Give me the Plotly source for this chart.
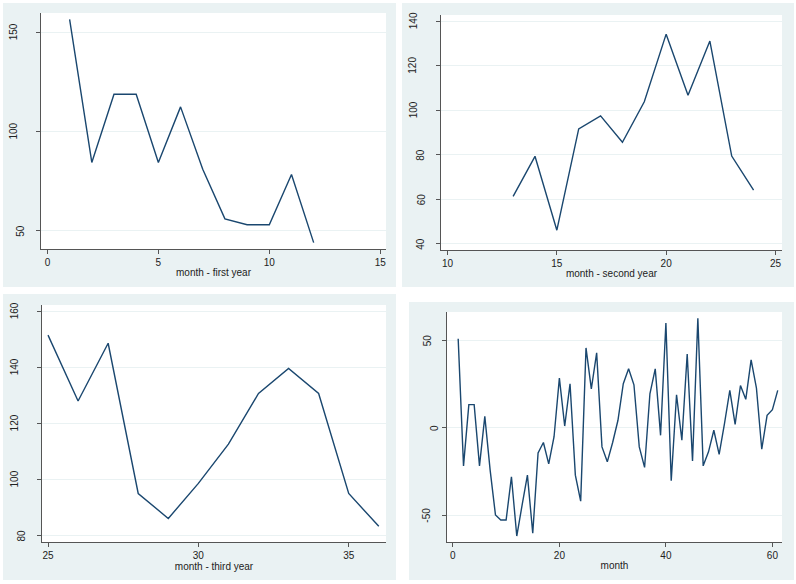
import plotly.graph_objects as go

W, H = 796, 584

# ---------------- data ----------------
months_y1 = list(range(1, 13))
values_y1 = [156.5, 84.4, 118.8, 118.8, 84.4, 112.4, 81.0, 56.0, 53.0, 53.0, 78.3, 44.0]

months_y2 = list(range(13, 25))
values_y2 = [61.3, 79.3, 46.1, 91.6, 97.5, 85.6, 103.8, 134.2, 106.7, 131.1, 79.4, 64.1]

months_y3 = list(range(25, 37))
values_y3 = [151.5, 128.0, 148.6, 95.0, 86.1, 98.6, 112.6, 130.7, 139.6, 130.7, 95.0, 83.3]

months_all = list(range(1, 62))
values_all = [50.8, -21.6, 13.3, 13.3, -21.6, 6.6, -24.0, -49.6, -52.5, -52.5,
              -27.8, -61.6, -44.0, -26.9, -60.0, -14.2, -8.3, -20.5, -5.0, 28.4,
              1.1, 25.2, -26.9, -41.7, 45.6, 22.3, 42.8, -10.8, -19.3, -8.3,
              4.4, 25.2, 33.7, 24.6, -10.8, -22.5, 19.5, 33.7, -4.2, 59.8,
              -30.1, 18.9, -7.0, 42.2, -18.8, 62.5, -21.6, -13.6, -1.3, -15.0,
              2.5, 21.4, 2.1, 24.2, 16.3, 38.8, 22.7, -12.1, 7.2, 10.4, 21.4]

titles = ["month - first year", "month - second year", "month - third year", "month"]
x_ticks = [[0, 5, 10, 15], [10, 15, 20, 25], [25, 30, 35], [0, 20, 40, 60]]
y_ticks = [[50, 100, 150], [40, 60, 80, 100, 120, 140], [80, 100, 120, 140, 160], [-50, 0, 50]]
x_ranges = [[-0.29, 15.26], [9.7, 25.3], [24.8, 36.24], [-1.1, 61.8]]
y_ranges = [[40.8, 159.7], [37.2, 142.8], [77.7, 162.25], [-65.0, 66.1]]

series = [(months_y1, values_y1), (months_y2, values_y2),
          (months_y3, values_y3), (months_all, values_all)]

# ---------------- layout geometry (pixels) ----------------
bg_boxes = [(3, 3, 396, 287), (402, 3, 794, 287), (3, 294, 396, 580), (409, 302, 794, 580)]
plot_boxes = [(41, 13, 386, 249), (441, 15, 782, 250), (42, 305, 386, 542), (447, 312, 782, 542)]

BG = "#EAF2F3"
LINE = "#1A476F"
AX = "#555555"
TXT = "#222222"
FONT = "Liberation Sans, Arial"
FS = 10

def px(x):
    return x / W

def py(y):
    return 1 - y / H

fig = go.Figure()
shapes = []
annotations = []
for i in range(4):
    xs, ys = series[i]
    ax = "" if i == 0 else str(i + 1)
    fig.add_trace(go.Scatter(x=xs, y=ys, mode="lines",
                             line=dict(color=LINE, width=1.4),
                             xaxis="x" + ax, yaxis="y" + ax,
                             showlegend=False, hoverinfo="x+y"))
    bx0, by0, bx1, by1 = bg_boxes[i]
    shapes.append(dict(type="rect", xref="paper", yref="paper", layer="below",
                       x0=px(bx0), x1=px(bx1), y0=py(by1), y1=py(by0),
                       fillcolor=BG, line=dict(width=0)))
    x0, y0, x1, y1 = plot_boxes[i]
    shapes.append(dict(type="rect", xref="paper", yref="paper", layer="below",
                       x0=px(x0), x1=px(x1), y0=py(y1), y1=py(y0),
                       fillcolor="white", line=dict(width=0)))
    xa = dict(domain=[px(x0), px(x1)], range=x_ranges[i], tickvals=x_ticks[i],
              showgrid=False, zeroline=False, showline=True, linecolor=AX, linewidth=1,
              ticks="outside", ticklen=4, tickcolor=AX, tickwidth=1,
              tickfont=dict(family=FONT, size=FS, color=TXT),
              title=dict(text=titles[i], standoff=1,
                         font=dict(family=FONT, size=FS, color=TXT)),
              anchor="y" + ax, fixedrange=True)
    ya = dict(domain=[py(y1), py(y0)], range=y_ranges[i], tickvals=y_ticks[i],
              showgrid=True, gridcolor=BG, gridwidth=1, zeroline=False,
              showline=True, linecolor=AX, linewidth=1, showticklabels=False,
              ticks="outside", ticklen=4, tickcolor=AX, tickwidth=1,
              anchor="x" + ax, fixedrange=True)
    fig.layout["xaxis" + ax] = xa
    fig.layout["yaxis" + ax] = ya
    # rotated y tick labels (Stata-style placement)
    for v in y_ticks[i]:
        s = str(v)
        ndig = len(s.replace("-", ""))
        annotations.append(dict(text=s, xref="x" + ax + " domain", yref="y" + ax,
                                x=0, y=v, xanchor="center", yanchor="middle",
                                xshift=-(4 + 8 * ndig), textangle=-90, showarrow=False,
                                font=dict(family=FONT, size=FS, color=TXT)))

fig.update_layout(width=W, height=H, margin=dict(l=0, r=0, t=0, b=0),
                  paper_bgcolor="white", plot_bgcolor="rgba(0,0,0,0)",
                  shapes=shapes, annotations=annotations, showlegend=False)

post = ("document.body.style.margin='0';document.body.style.padding='0';"
        "var g=document.querySelector('.plotly-graph-div');"
        "g.style.position='absolute';g.style.left='0px';g.style.top='0px';")

fig.write_html("out.html", config={"displayModeBar": False}, post_script=post)
